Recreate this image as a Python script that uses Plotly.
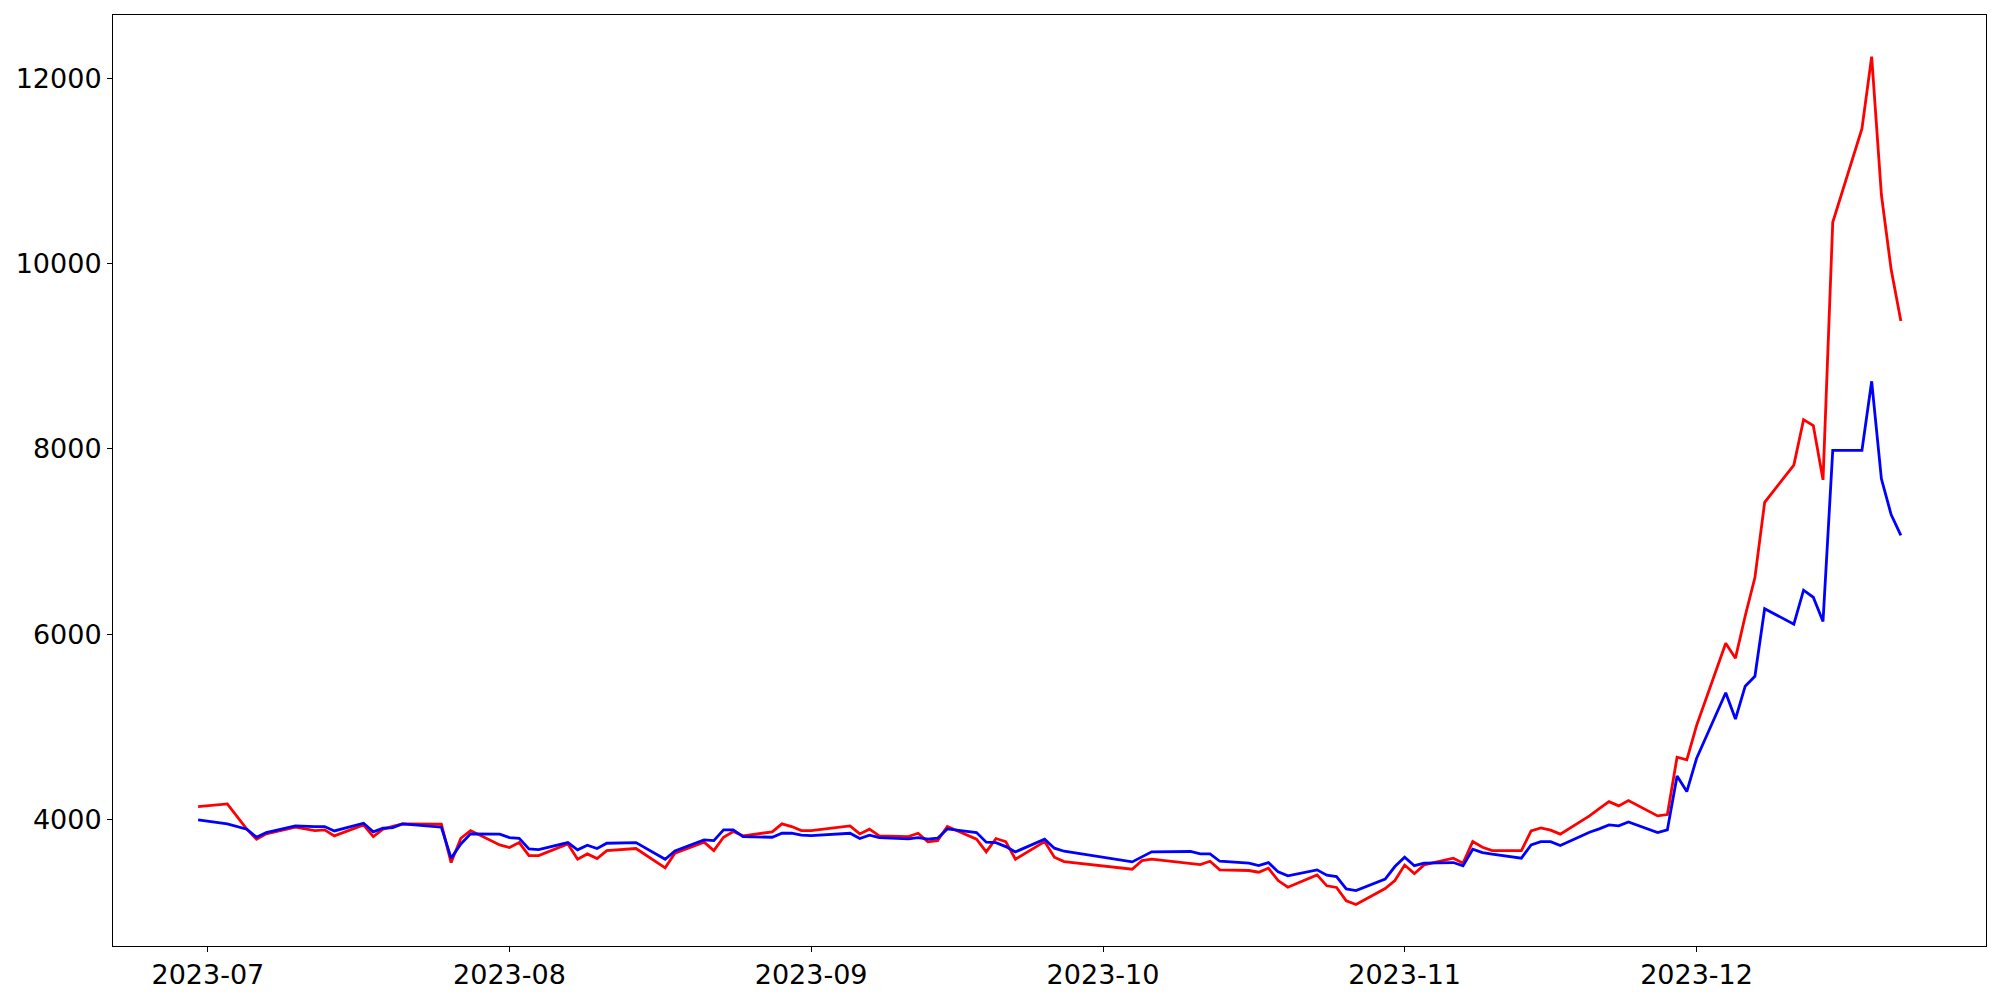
import plotly.graph_objects as go

# trading dates (vertices)
dates = [
    "2023-06-30", "2023-07-03", "2023-07-05", "2023-07-06", "2023-07-07",
    "2023-07-10", "2023-07-12", "2023-07-13", "2023-07-14", "2023-07-17",
    "2023-07-18", "2023-07-19", "2023-07-20", "2023-07-21", "2023-07-25",
    "2023-07-26", "2023-07-27", "2023-07-28", "2023-07-31", "2023-08-01",
    "2023-08-02", "2023-08-03", "2023-08-04", "2023-08-07", "2023-08-08",
    "2023-08-09", "2023-08-10", "2023-08-11", "2023-08-14", "2023-08-17",
    "2023-08-18", "2023-08-21", "2023-08-22", "2023-08-23", "2023-08-24",
    "2023-08-25", "2023-08-28", "2023-08-29", "2023-08-30", "2023-08-31",
    "2023-09-01", "2023-09-05", "2023-09-06", "2023-09-07", "2023-09-08",
    "2023-09-11", "2023-09-12", "2023-09-13", "2023-09-14", "2023-09-15",
    "2023-09-18", "2023-09-19", "2023-09-20", "2023-09-21", "2023-09-22",
    "2023-09-25", "2023-09-26", "2023-09-27", "2023-10-04", "2023-10-05",
    "2023-10-06", "2023-10-10", "2023-10-11", "2023-10-12", "2023-10-13",
    "2023-10-16", "2023-10-17", "2023-10-18", "2023-10-19", "2023-10-20",
    "2023-10-23", "2023-10-24", "2023-10-25", "2023-10-26", "2023-10-27",
    "2023-10-30", "2023-10-31", "2023-11-01", "2023-11-02", "2023-11-03",
    "2023-11-06", "2023-11-07", "2023-11-08", "2023-11-09", "2023-11-10",
    "2023-11-13", "2023-11-14", "2023-11-15", "2023-11-16", "2023-11-17",
    "2023-11-20", "2023-11-21", "2023-11-22", "2023-11-23", "2023-11-24",
    "2023-11-27", "2023-11-28", "2023-11-29", "2023-11-30", "2023-12-01",
    "2023-12-04", "2023-12-05", "2023-12-06", "2023-12-07", "2023-12-08",
    "2023-12-11", "2023-12-12", "2023-12-13", "2023-12-14", "2023-12-15",
    "2023-12-18", "2023-12-19", "2023-12-20", "2023-12-21", "2023-12-22",
]

red_values = [
    4143, 4172, 3900, 3792, 3849,
    3921, 3885, 3892, 3828, 3946,
    3820, 3900, 3930, 3957, 3953,
    3540, 3802, 3885, 3730, 3702,
    3755, 3615, 3615, 3741, 3576,
    3633, 3583, 3669, 3691, 3483,
    3641, 3760, 3669, 3813, 3874,
    3828, 3871, 3957, 3928, 3885,
    3885, 3935, 3849, 3900, 3828,
    3820, 3856, 3763, 3777, 3928,
    3792, 3655, 3799, 3766, 3576,
    3766, 3598, 3551, 3468, 3561,
    3576, 3526, 3518, 3554, 3461,
    3454, 3436, 3479, 3346, 3274,
    3407, 3289, 3271, 3127, 3087,
    3260, 3346, 3513, 3420, 3515,
    3587, 3533, 3766, 3705, 3669,
    3669, 3881, 3914, 3889, 3846,
    4043, 4122, 4197, 4151, 4208,
    4043, 4057, 4676, 4647, 5017,
    5904, 5744, 6199, 6613, 7424,
    7826, 8316, 8252, 7667, 10445,
    11454, 12231, 10741, 9937, 9381,
]

blue_values = [
    4000, 3957, 3899, 3813, 3863,
    3935, 3928, 3928, 3881, 3964,
    3871, 3910, 3917, 3957, 3921,
    3587, 3741, 3849, 3846, 3809,
    3802, 3687, 3680, 3755, 3677,
    3727, 3691, 3748, 3755, 3576,
    3666, 3784, 3777, 3892, 3892,
    3820, 3813, 3856, 3856, 3835,
    3831, 3856, 3799, 3835, 3809,
    3795, 3809, 3792, 3802, 3903,
    3863, 3760, 3755, 3712, 3655,
    3792, 3695, 3662, 3547, 3605,
    3655, 3659, 3633, 3633, 3554,
    3533, 3508, 3540, 3439, 3396,
    3461, 3404, 3389, 3256, 3238,
    3361, 3497, 3598, 3506, 3533,
    3540, 3504, 3684, 3648, 3630,
    3587, 3730, 3766, 3766, 3723,
    3867, 3903, 3946, 3935, 3978,
    3863, 3892, 4474, 4305, 4662,
    5371, 5088, 5442, 5549, 6277,
    6111, 6477, 6401, 6140, 7985,
    7985, 8730, 7678, 7293, 7069,
]

fig = go.Figure()
fig.add_trace(go.Scatter(x=dates, y=red_values, mode="lines",
                         line=dict(color="#ff0000", width=2.8), showlegend=False))
fig.add_trace(go.Scatter(x=dates, y=blue_values, mode="lines",
                         line=dict(color="#0000ff", width=2.8), showlegend=False))

axis_style = dict(showgrid=False, zeroline=False, showline=True, linecolor="black",
                  linewidth=1, mirror=True, ticks="outside", ticklen=5, tickwidth=1,
                  tickcolor="black", automargin=False)

fig.update_xaxes(range=["2023-06-21 06:00", "2023-12-30 18:00"], tickformat="%Y-%m",
                 dtick="M1", tick0="2023-07-01", **axis_style)
fig.update_yaxes(range=[2640, 12680], tickformat="d", dtick=2000, tick0=0, **axis_style)

# the page body adds an 8px offset, so margins are shifted to compensate
fig.update_layout(
    width=2000, height=1000,
    margin=dict(l=105, r=22, t=7, b=62),
    plot_bgcolor="white", paper_bgcolor="white",
    font=dict(family="DejaVu Sans", size=27, color="black"),
)

fig.write_html("out.html")
